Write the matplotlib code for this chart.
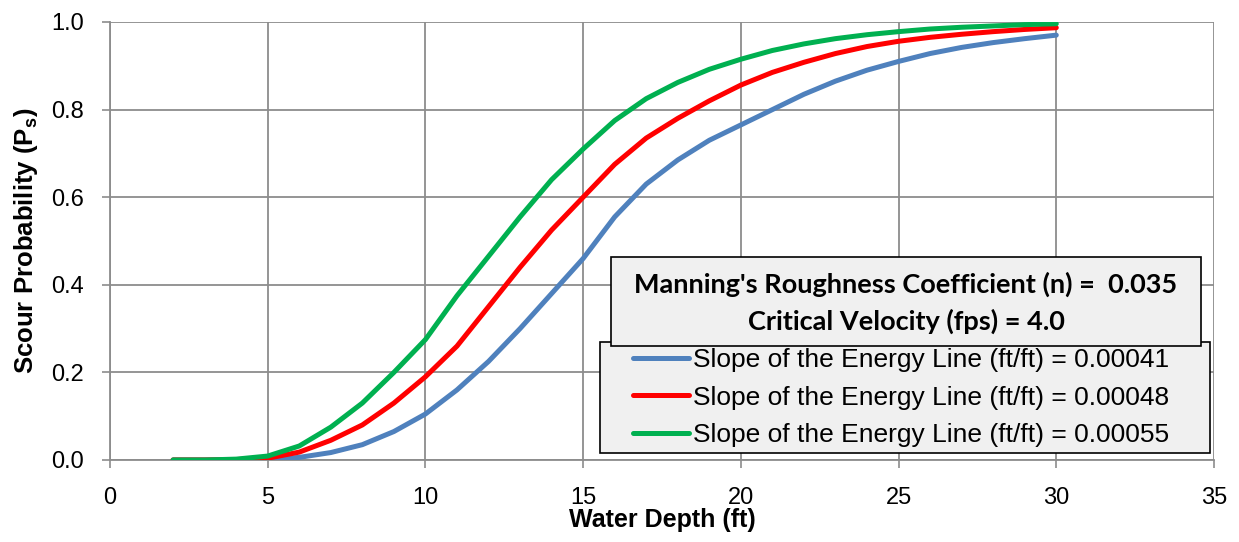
import matplotlib.pyplot as plt
import matplotlib.patches as patches
from matplotlib.legend_handler import HandlerLine2D

# water depth (ft)
depth = list(range(2, 31))

# scour probability, one list per slope
p_00041 = [0.0, 0.0, 0.0, 0.001, 0.006, 0.017, 0.035, 0.065, 0.105, 0.16,
           0.225, 0.30, 0.38, 0.46, 0.555, 0.63, 0.685, 0.73, 0.765, 0.80,
           0.835, 0.865, 0.89, 0.91, 0.928, 0.942, 0.953, 0.962, 0.97]
p_00048 = [0.0, 0.0, 0.001, 0.004, 0.018, 0.045, 0.08, 0.13, 0.19, 0.26,
           0.35, 0.44, 0.525, 0.60, 0.675, 0.735, 0.78, 0.82, 0.856, 0.885,
           0.908, 0.928, 0.944, 0.956, 0.965, 0.972, 0.978, 0.983, 0.987]
p_00055 = [0.0, 0.0, 0.002, 0.009, 0.032, 0.075, 0.13, 0.20, 0.275, 0.375,
           0.465, 0.555, 0.64, 0.71, 0.775, 0.825, 0.862, 0.892, 0.915, 0.935,
           0.95, 0.962, 0.971, 0.978, 0.984, 0.988, 0.991, 0.994, 0.996]

series = [p_00041, p_00048, p_00055]
labels = ["Slope of the Energy Line (ft/ft) = 0.00041",
          "Slope of the Energy Line (ft/ft) = 0.00048",
          "Slope of the Energy Line (ft/ft) = 0.00055"]
colors = ["#4F81BD", "#FF0000", "#00B050"]

x_ticks = [0, 5, 10, 15, 20, 25, 30, 35]
y_ticks = [0.0, 0.2, 0.4, 0.6, 0.8, 1.0]

plt.rcParams['font.family'] = ['Liberation Sans', 'DejaVu Sans']
plt.rcParams['mathtext.fontset'] = 'custom'
plt.rcParams['mathtext.bf'] = 'Liberation Sans:bold'
plt.rcParams['mathtext.rm'] = 'Liberation Sans'

W, H = 1239, 542
fig = plt.figure(figsize=(W / 100, H / 100), dpi=100)
ax = fig.add_axes([110 / W, 82 / H, 1104 / W, 438 / H])


def ax_x(px):
    return (px - 110) / 1104


def ax_y(py):
    return (460 - py) / 438


for vals, lab, col in zip(series, labels, colors):
    ax.plot(depth, vals, color=col, lw=3.6, label=lab, solid_capstyle='round',
            solid_joinstyle='round', zorder=3)

ax.set_xlim(0, 35)
ax.set_ylim(0, 1.0)
ax.set_xticks(x_ticks)
ax.set_yticks(y_ticks)
ax.set_yticklabels(["%.1f" % v for v in y_ticks])
ax.grid(True, color="#8c8c8c", lw=1.3)
ax.set_axisbelow(True)
for s in ["top", "right"]:
    ax.spines[s].set_visible(False)
for s in ["left", "bottom"]:
    ax.spines[s].set_color("#8c8c8c")
    ax.spines[s].set_linewidth(1.3)
ax.tick_params(axis='both', colors="#8c8c8c", labelcolor="black", labelsize=17,
               length=5.5, width=1.2)
ax.tick_params(axis='x', pad=14)
ax.tick_params(axis='y', pad=13)

ax.set_xlabel("Water Depth (ft)", fontsize=18, fontweight='bold', labelpad=-1)
ax.set_ylabel(r"Scour Probability (P$_\mathbf{s}$)", fontsize=18.5, fontweight='bold', labelpad=8)

# legend frame drawn by hand so the padding matches
leg_box = patches.Rectangle((ax_x(600), ax_y(453)), ax_x(1210) - ax_x(600),
                            ax_y(342) - ax_y(453), transform=ax.transAxes,
                            facecolor="#f0f0f0", edgecolor="black", lw=1.2,
                            zorder=4.5, clip_on=False)
ax.add_patch(leg_box)
leg = ax.legend(loc='upper left', bbox_to_anchor=(ax_x(603), ax_y(348)), borderaxespad=0,
                fontsize=19, frameon=False, handlelength=3.25, handletextpad=0.15,
                labelspacing=0.52, borderpad=0,
                handler_map={plt.Line2D: HandlerLine2D(xpad=1.15)})
leg.set_zorder(5)

# parameter box on top of the legend
x0, x1 = ax_x(611), ax_x(1201)
y0, y1 = ax_y(346), ax_y(257)
rect = patches.Rectangle((x0, y0), x1 - x0, y1 - y0, transform=ax.transAxes,
                         facecolor="#f0f0f0", edgecolor="black", lw=1.2, zorder=6,
                         clip_on=False)
ax.add_patch(rect)
ax.text((x0 + x1) / 2, ax_y(303),
        "Manning's Roughness Coefficient (n) =  0.035\nCritical Velocity (fps) = 4.0",
        transform=ax.transAxes, ha='center', va='center', fontsize=19.5,
        fontweight='bold', family=['Lato', 'DejaVu Sans'], linespacing=1.55, zorder=7)

plt.savefig("out.png", dpi=100)
